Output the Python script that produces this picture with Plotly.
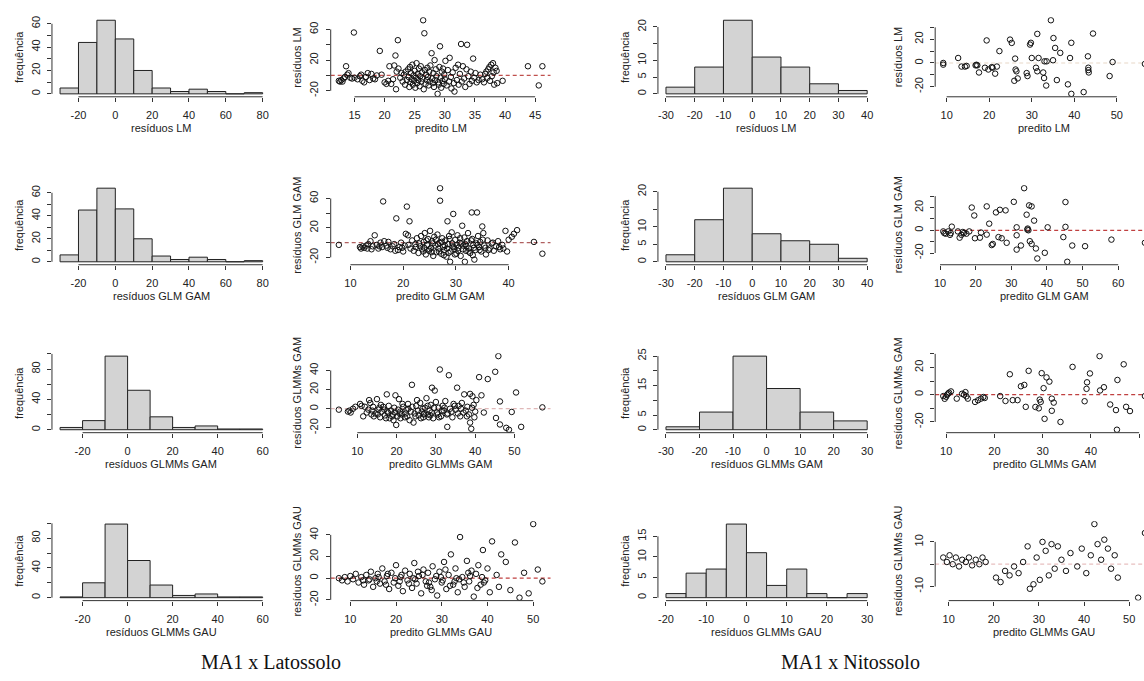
import plotly.graph_objects as go

W, H = 1144, 681
FONT = "Liberation Sans, Arial, sans-serif"
SERIF = "Liberation Serif, Times New Roman, serif"

# ---------------- histogram data ----------------
lat_lm_breaks = [-30, -20, -10, 0, 10, 20, 30, 40, 50, 60, 70, 80]
lat_lm_counts = [5, 44, 63, 47, 20, 5, 2, 4, 2, 0, 1]
lat_glm_breaks = [-30, -20, -10, 0, 10, 20, 30, 40, 50, 60, 70, 80]
lat_glm_counts = [6, 45, 64, 46, 20, 5, 2, 4, 2, 0, 1]
lat_gmmgam_breaks = [-30, -20, -10, 0, 10, 20, 30, 40, 50, 60]
lat_gmmgam_counts = [3, 12, 97, 52, 17, 3, 5, 1, 1]
lat_gmmgau_breaks = [-30, -20, -10, 0, 10, 20, 30, 40, 50, 60]
lat_gmmgau_counts = [1, 20, 99, 50, 17, 3, 5, 1, 1]

nit_lm_breaks = [-30, -20, -10, 0, 10, 20, 30, 40]
nit_lm_counts = [2, 8, 22, 11, 8, 3, 1]
nit_glm_breaks = [-30, -20, -10, 0, 10, 20, 30, 40]
nit_glm_counts = [2, 12, 21, 8, 6, 5, 1]
nit_gmmgam_breaks = [-30, -20, -10, 0, 10, 20, 30]
nit_gmmgam_counts = [1, 6, 25, 14, 6, 3]
nit_gmmgau_breaks = [-20, -15, -10, -5, 0, 5, 10, 15, 20, 25, 30]
nit_gmmgau_counts = [1, 6, 7, 18, 11, 3, 7, 1, 0, 1]

# ---------------- scatter data (predicted, residual) ----------------
lat_lm_pts = [
    (12.4, -7), (12.6, -8), (12.8, -6), (13.0, -8), (13.2, -4), (13.4, -2), (13.6, 12), (13.8, 1), (14.0, 3),
    (14.3, -3), (14.6, -4), (15.0, -3), (15.5, -5), (15.9, -1), (16.1, 1), (16.3, -7), (16.6, -9), (16.9, -2),
    (17.2, 3), (17.5, -6), (17.8, 2), (18.1, -4), (18.4, -5), (18.7, 0), (14.9, 56), (19.2, 32), (19.5, 1),
    (20.0, -9), (20.3, -11), (20.6, -7), (20.8, 12), (21.1, -11), (21.4, -5), (21.6, 13), (21.8, 26), (22.2, 46),
    (21.9, -18), (22.0, 5), (22.3, 9), (22.6, -3), (22.8, 3), (23.0, -8), (23.2, 1), (23.4, -12), (23.5, 5),
    (23.7, -6), (23.9, 8), (24.0, -2), (24.1, -15), (24.2, 11), (24.3, -9), (24.4, 3), (24.5, -5), (24.6, 14),
    (24.7, -12), (24.8, 0), (24.9, -7), (25.0, 6), (25.1, -16), (25.2, -3), (25.3, 16), (25.4, -10), (25.5, 2),
    (25.6, -6), (25.7, 9), (25.8, -14), (25.9, -1), (26.0, 12), (26.1, -8), (26.2, 4), (26.3, -4), (26.4, 72),
    (26.6, 55), (26.5, -18), (26.7, 7), (26.8, -11), (26.9, 1), (27.0, -6), (27.1, 10), (27.2, -2), (27.3, -13),
    (27.4, 5), (27.5, -8), (27.6, 13), (27.8, 29), (27.9, -4), (28.0, -10), (28.1, 3), (28.2, -15), (28.3, 20),
    (28.4, -6), (28.5, 8), (28.6, -1), (28.8, -24), (28.9, -9), (29.0, -12), (29.1, 11), (29.2, 38), (29.3, -3),
    (29.4, -16), (29.5, 5), (29.6, -7), (29.7, 9), (29.8, -11), (29.9, 1), (30.0, -5), (30.1, 19), (30.3, -13),
    (30.5, 7), (30.7, -8), (30.8, 23), (31.0, -2), (31.1, -17), (31.3, 4), (31.5, -10), (31.6, -21), (31.8, 10),
    (32.0, -6), (32.2, 14), (32.3, -12), (32.5, 2), (32.7, 41), (32.8, -8), (33.0, 12), (33.2, -4), (33.4, -15),
    (33.6, 8), (33.7, 40), (33.9, -1), (34.1, -11), (34.3, 5), (34.5, -7), (34.7, 22), (34.9, -3), (35.1, 3),
    (35.3, -9), (35.6, -6), (35.9, 1), (36.2, -5), (36.5, -9), (36.7, 2), (36.9, 5), (37.1, -3), (37.2, 8),
    (37.4, 11), (37.5, -7), (37.7, 14), (37.8, -1), (38.0, 16), (38.1, 4), (38.2, -12), (38.4, 10), (38.6, 6),
    (38.7, -10), (39.6, -7), (43.8, 12), (46.2, 12), (45.6, -13),
]

lat_glm_pts = [
    (7.8, -3), (11.8, -6), (12.0, -8), (12.3, -5), (12.6, -7), (13.0, -4), (13.4, -2), (13.8, 2), (14.2, -5),
    (14.6, 10), (15.0, -3), (15.3, -8), (15.7, 0), (16.0, -6), (16.2, 56), (16.4, 2), (16.8, -4), (17.2, 1),
    (17.6, -9), (18.0, -5), (18.3, -2), (18.7, 33), (19.0, -10), (19.3, -6), (19.6, 0), (20.0, -12), (20.3, -4),
    (20.7, 49), (20.5, 12), (20.9, 10), (21.2, 29), (21.4, -8), (21.7, 3), (22.0, -11), (22.3, -2), (22.6, 6),
    (22.9, -14), (23.2, -5), (23.4, 9), (23.6, -9), (23.9, 1), (24.1, 13), (24.3, -16), (24.5, -3), (24.7, 5),
    (24.9, -11), (25.1, 16), (25.3, -7), (25.5, 2), (25.7, -18), (25.9, 8), (26.1, -4), (26.3, -13), (26.5, 11),
    (26.7, -8), (26.9, 0), (27.0, 74), (27.0, 57), (27.2, -15), (27.4, 6), (27.6, -6), (27.8, -10), (28.0, 3),
    (28.2, -19), (28.4, 29), (28.5, -2), (28.7, 9), (28.9, -26), (29.0, -12), (29.2, 14), (29.4, -5), (29.5, 39),
    (29.7, -9), (29.9, 4), (30.1, -15), (30.3, 10), (30.5, -7), (30.7, 0), (30.9, -18), (31.2, 23), (31.4, -4),
    (31.6, 7), (31.7, -26), (31.9, -11), (32.1, 2), (32.3, 13), (32.5, -8), (32.7, -14), (33.0, 41), (33.1, 5),
    (33.3, -3), (33.5, -23), (33.7, -10), (34.0, 41), (34.2, 9), (34.4, -6), (34.6, 1), (34.8, -12), (35.0, 22),
    (35.2, 13), (35.4, -4), (35.7, -16), (36.0, 3), (36.4, -8), (36.8, -1), (37.2, -11), (37.6, -5), (38.0, 2),
    (38.4, -9), (38.8, -3), (39.0, -8), (39.4, 16), (39.7, -12), (40.0, 4), (40.6, 8), (41.0, 12), (41.6, 17),
    (44.8, 1), (46.4, -15), (23.0, -1), (23.8, -12), (24.4, 3), (25.0, -9), (25.6, -1), (26.2, 4), (26.8, -12),
    (27.3, 1), (27.9, -4), (28.3, -8), (28.8, 5), (29.3, -1), (29.8, -16), (30.2, -3), (30.8, 6), (31.3, -9),
    (31.8, -2), (32.4, -12), (32.9, 3), (33.4, -7), (33.9, -1), (34.5, -10), (35.1, 4), (35.6, -7), (24.0, -7),
    (25.4, -13), (26.6, -2), (27.7, -17), (28.6, -14), (29.6, -6), (30.4, -11), (31.0, -1), (32.0, -5),
    (33.2, -17), (34.1, -3), (36.2, -10), (37.0, 0), (38.2, -6), (22.4, -6), (21.0, -3), (19.8, -7), (18.5, -11),
    (17.0, -7), (15.5, -5), (14.0, -9), (13.2, -8),
]

lat_gmmgam_pts = [
    (5.3, -1), (7.6, -3), (8.0, -2), (8.3, -4), (8.9, 0), (9.5, 2), (10.7, 5), (11.1, 3), (11.5, -8), (12.4, -4),
    (13.0, 9), (13.3, 6), (13.8, -2), (14.2, -8), (14.6, -5), (15.0, 10), (15.4, -1), (15.8, -9), (16.2, -3),
    (16.6, 2), (17.0, -7), (17.5, 15), (17.8, -4), (18.2, -10), (18.6, -2), (19.0, -6), (19.4, 1), (19.7, 14),
    (19.9, -17), (20.2, -8), (20.6, 10), (20.9, -3), (21.3, -6), (21.7, 2), (22.1, -9), (22.5, -1), (22.9, 5),
    (23.3, -12), (23.9, 25), (24.3, -14.5), (24.6, -5), (25.0, 3), (25.2, 9), (25.6, -7), (26.0, 6), (26.4, -3),
    (26.8, -9), (27.2, 1), (27.6, 11), (28.0, -6), (28.4, -2), (28.7, 4), (29.0, 22), (29.3, -10), (29.7, 19),
    (30.0, 7), (30.3, -4), (30.7, 1), (31.0, 41), (31.3, -8), (31.7, 3), (32.0, -2), (32.4, 8), (32.8, -6),
    (32.9, -19), (33.3, 35), (33.6, 0), (34.0, -3), (34.5, 5), (35.0, -1), (35.4, 22), (35.8, 3), (36.2, -8),
    (36.6, 6), (37.2, 15), (37.6, -2), (38.0, 2), (38.4, -6), (38.7, 15.5), (38.7, -14.5), (39.0, -21),
    (39.3, 13), (39.6, 4), (40.0, -3), (40.3, 9), (41.0, 33), (41.6, 14), (42.2, -4), (43.2, 31), (45.1, 38.6),
    (45.3, -9.7), (45.9, 55), (46.3, 7.6), (46.3, -16.5), (47.9, -20), (48.6, -22), (49.3, -3.4), (50.4, 17),
    (51.7, -19), (57.1, 1.4), (14.0, 2), (15.2, -6), (16.0, 4), (16.9, -1), (17.3, -10), (18.0, 3), (18.9, -8),
    (19.5, -4), (20.4, -1), (21.0, -10), (21.5, 5), (22.3, -5), (23.0, 0), (23.6, -3), (24.0, 2), (25.4, -2),
    (26.2, -10), (26.6, 0), (27.0, -5), (27.9, 3), (28.2, -9), (28.9, -4), (29.5, 1), (30.5, -6), (31.5, -2),
    (32.2, 1), (33.0, -5), (34.2, -9), (34.8, 3), (35.6, -5), (36.4, 0), (37.0, -4), (37.9, -8), (39.2, 1),
    (39.8, -9), (15.6, 1), (17.6, -3), (19.2, -12), (20.8, -5), (22.7, -8), (24.8, -8), (26.9, -6), (28.6, -7),
    (30.8, -9), (12.8, -1), (11.9, 2), (13.6, -6),
]

lat_gmmgau_pts = [
    (7.5, 0), (8.2, -2), (8.8, 1), (9.4, -3), (10.0, 2), (10.6, -1), (11.2, 4), (11.8, -4), (12.4, 1), (13.0, -6),
    (13.5, 3), (14.0, -2), (14.5, 6), (15.0, -8), (15.5, 0), (16.0, 4), (16.5, -5), (17.0, 9), (17.5, -3),
    (18.0, 2), (18.5, -10), (19.0, 5), (19.5, -4), (20.0, 12), (20.5, -7), (21.0, 1), (21.5, -12), (22.0, 7),
    (22.5, -2), (23.0, 4), (23.5, -9), (24.0, 14), (24.5, -5), (25.0, 2), (25.5, -14), (26.0, 8), (26.5, -3),
    (27.0, 5), (27.5, -8), (28.0, 11), (28.5, -1), (29.0, -16), (29.5, 6), (30.0, -4), (30.5, 15), (31.0, -10),
    (31.5, 3), (32.0, 22), (32.5, -6), (33.0, 9), (33.5, -13), (34.0, 38), (34.5, 1), (35.0, -8), (35.5, 16),
    (36.0, -3), (36.5, 7), (37.0, -17), (37.5, 4), (38.0, 12), (38.5, -6), (39.0, 26), (39.5, -2), (40.0, 9),
    (40.5, -13), (41.0, 34), (42.0, 3), (42.5, -8), (43.0, 22), (44.0, 15), (45.0, -11), (46.0, 33), (47.0, -18),
    (48.0, 5), (49.0, -14), (50.0, 50), (51.0, 8), (52.0, -3), (14.2, -1), (16.2, 1), (17.8, -6), (19.8, 0),
    (21.2, 3), (22.8, -5), (24.2, -1), (25.8, 3), (27.2, -4), (28.8, 2), (30.2, -2), (31.8, -7), (33.2, 0),
    (34.8, -4), (36.2, 2), (37.8, -9), (39.2, -4), (15.8, -3), (18.2, 4), (20.8, -3), (23.8, 0), (26.8, -7),
    (29.8, 1), (32.8, -3), (35.8, 5), (38.8, 1), (12.8, -2), (24.8, 6), (27.8, -11), (30.8, 8), (33.8, -1),
]

nit_lm_pts = [
    (9.2, 0), (9.2, -1.4), (12.7, 4.2), (13.5, -3), (14.3, -3), (14.7, -2.5), (16.8, -2), (17.0, -1.5), (17.2, -2),
    (17.6, -8), (19.4, 19), (19.0, -4), (19.8, -5.5), (20.6, -3.5), (20.8, -4), (21.8, -3), (21.4, -9), (22.4, 10),
    (24.9, 19.7), (25.3, 16.9), (26.1, 3.7), (26.2, -5.5), (26.4, -7), (25.9, -15), (26.7, -13), (29.6, 15.5),
    (29.8, 17), (28.8, -8.5), (29.0, -11), (30.0, 4.2), (31.6, 4.2), (31.0, -4), (31.3, -7), (31.3, 24.5),
    (33.0, 1.4), (33.5, 1.4), (32.7, -8), (32.9, -12.7), (33.4, -19), (34.5, 36), (35.1, 21), (35.5, 12.7),
    (36.7, 8.5), (35.0, 2.3), (35.9, -14.4), (38.5, -18), (39.3, -26), (39.3, 17), (39.0, 4.2), (42.2, -24.5),
    (43.2, 5.6), (43.3, -4), (43.3, -6), (43.4, -8), (44.4, 24.8), (48.3, -11), (49.0, 0.8), (56.6, -0.8),
]

nit_glm_pts = [
    (10.9, -1), (11.2, -2.5), (11.6, -3), (12.3, -1), (12.8, -4), (13.3, 3.2), (13.0, -2.5), (15.0, -1),
    (15.5, -6.5), (16.0, -4), (16.4, -1.5), (16.7, -2.5), (17.4, -3), (18.2, -1), (18.9, 20), (19.6, 13),
    (19.8, -7), (21.2, -6.5), (21.5, -2), (23.1, 21), (23.1, -3.8), (23.8, 5.8), (24.5, -13), (24.8, -12),
    (25.7, 15.7), (26.8, 18), (28.4, 17.5), (26.4, -6), (27.3, -7), (28.7, -11), (30.7, 25), (31.5, -17),
    (31.5, 2.6), (31.5, -4.4), (32.7, -13.4), (33.6, 37), (34.3, 13.7), (34.6, 1.5), (34.8, 0), (34.5, 0.6),
    (35.0, 21.9), (35.7, 21), (35.2, -9.6), (35.7, -12), (36.4, 8.5), (36.9, -16), (37.3, -24.8), (39.4, -19.8),
    (40.2, 2.6), (44.6, -6), (45.2, 24.8), (45.2, 3), (45.7, -27.7), (47.1, -13.4), (50.7, -14), (58.1, -8.2),
    (67.5, -11),
]

nit_gmmgam_pts = [
    (9.4, -1), (9.7, -3), (10.0, -1.5), (10.4, 0.8), (10.6, 1.5), (11.0, 2.4), (10.2, 0), (12.2, -2.9),
    (13.3, 0.7), (13.7, 0), (14.2, -1.2), (14.5, -2.9), (14.0, 1.9), (16.0, -5.3), (16.6, -4.1), (17.2, -2.9),
    (17.7, -1.7), (18.0, -2.4), (21.2, -1), (22.3, -4.6), (23.2, 15), (23.8, -4), (24.8, -4), (25.5, 6.2),
    (26.2, 7.2), (26.5, -8.9), (27.1, 17.5), (28.5, -9), (29.2, -10), (29.4, -3.6), (29.6, -5.3), (29.8, 15.8),
    (30.2, 4.8), (30.4, -17.7), (30.8, 12.7), (31.4, 9.6), (31.9, -2.9), (32.3, -5.8), (31.9, -11.8),
    (33.7, -20), (36.2, 20.4), (38.7, -4.8), (39.1, 4.3), (39.2, 9.1), (39.8, 15.6), (41.8, 28.3), (41.9, 3.1),
    (42.7, 5.5), (44.0, -7.2), (45.2, -11.3), (45.5, 10.8), (45.4, -25.7), (46.8, 22.3), (47.3, -8.9),
    (48.1, -12), (51.2, -1),
]

nit_gmmgau_pts = [
    (8.8, 3), (9.6, 1), (10.2, 4), (10.9, 0), (11.6, 3), (12.3, -1), (13.0, 2), (13.8, 1), (14.5, 3), (15.2, -0.5),
    (16.0, 2), (16.8, 0), (17.5, 3), (18.2, 1), (20.5, -6), (21.5, -8), (22.5, -3), (23.5, -5), (24.5, -1),
    (25.5, -4), (26.5, 1), (27.5, 8), (28.0, -11), (28.8, -9), (29.5, 3), (30.2, -7), (30.8, 10), (31.5, 6),
    (32.2, -5), (32.8, 9), (33.5, -2), (34.2, 8), (35.0, 2), (36.0, -3), (37.0, 5), (38.5, -1), (39.5, 7),
    (40.5, -4), (41.5, 4), (42.3, 18), (43.0, 9), (43.8, 2), (44.5, 11), (45.3, 7), (46.0, -2), (46.8, 4),
    (47.5, -6), (52.0, -15), (53.5, 14),
]

# ---------------- tick values / labels ----------------
tk_lat_hist80_x = [-20, 0, 20, 40, 60, 80]
tk_lat_hist60_x = [-20, 0, 20, 40, 60]
tk_lat_hist60_y = [0, 10, 20, 30, 40, 50, 60]
tl_lat_hist60_y = ["0", "", "20", "", "40", "", "60"]
tk_lat_hist100_y = [0, 20, 40, 60, 80, 100]
tl_lat_hist100_y = ["0", "", "40", "", "80", ""]
tk_nit_hist_x40 = [-30, -20, -10, 0, 10, 20, 30, 40]
tk_nit_hist_x30 = [-30, -20, -10, 0, 10, 20, 30]
tk_nit_gau_x = [-20, -10, 0, 10, 20, 30]

# ---------------- panels ----------------
panels = [
    # row 1
    dict(kind="hist", breaks=lat_lm_breaks, counts=lat_lm_counts, xt=tk_lat_hist80_x, xl=None,
         yt=tk_lat_hist60_y, yl=tl_lat_hist60_y, xlab="resíduos LM", ylab="frequência"),
    dict(kind="sc", pts=lat_lm_pts, xt=[15, 20, 25, 30, 35, 40, 45], xl=None,
         yt=[-20, 0, 20, 40, 60], yl=["-20", "", "20", "", "60"], xlab="predito LM", ylab="resíduos LM",
         dash="#c0504d"),
    dict(kind="hist", breaks=nit_lm_breaks, counts=nit_lm_counts, xt=tk_nit_hist_x40, xl=None,
         yt=[0, 5, 10, 15, 20], yl=["0", "5", "10", "", "20"], xlab="resíduos LM", ylab="frequência"),
    dict(kind="sc", pts=nit_lm_pts, xt=[10, 20, 30, 40, 50], xl=None,
         yt=[-20, -10, 0, 10, 20, 30], yl=["-20", "", "0", "", "20", ""], xlab="predito LM",
         ylab="resíduos LM", dash="#e8d8c8"),
    # row 2
    dict(kind="hist", breaks=lat_glm_breaks, counts=lat_glm_counts, xt=tk_lat_hist80_x, xl=None,
         yt=tk_lat_hist60_y, yl=tl_lat_hist60_y, xlab="resíduos GLM GAM", ylab="frequência"),
    dict(kind="sc", pts=lat_glm_pts, xt=[10, 20, 30, 40], xl=None,
         yt=[-20, 0, 20, 40, 60], yl=["-20", "", "20", "", "60"], xlab="predito GLM GAM",
         ylab="resíduos GLM GAM", dash="#b06060"),
    dict(kind="hist", breaks=nit_glm_breaks, counts=nit_glm_counts, xt=tk_nit_hist_x40, xl=None,
         yt=[0, 5, 10, 15, 20], yl=["0", "5", "10", "", "20"], xlab="resíduos GLM GAM", ylab="frequência"),
    dict(kind="sc", pts=nit_glm_pts, xt=[10, 20, 30, 40, 50, 60], xl=None,
         yt=[-20, -10, 0, 10, 20, 30], yl=["-20", "", "0", "", "20", ""], xlab="predito GLM GAM",
         ylab="resíduos GLM GAM", dash="#c04040"),
    # row 3
    dict(kind="hist", breaks=lat_gmmgam_breaks, counts=lat_gmmgam_counts, xt=tk_lat_hist60_x, xl=None,
         yt=tk_lat_hist100_y, yl=tl_lat_hist100_y, xlab="resíduos GLMMs GAM", ylab="frequência"),
    dict(kind="sc", pts=lat_gmmgam_pts, xt=[10, 20, 30, 40, 50], xl=None,
         yt=[-20, 0, 20, 40], yl=None, xlab="predito GLMMs GAM", ylab="resíduos GLMMs GAM",
         dash="#e0b8b8"),
    dict(kind="hist", breaks=nit_gmmgam_breaks, counts=nit_gmmgam_counts, xt=tk_nit_hist_x30, xl=None,
         yt=[0, 5, 10, 15, 20, 25], yl=["0", "5", "", "15", "", "25"], xlab="resíduos GLMMs GAM",
         ylab="frequência"),
    dict(kind="sc", pts=nit_gmmgam_pts, xt=[10, 20, 30, 40, 50], xl=None,
         yt=[-20, -10, 0, 10, 20, 30], yl=["-20", "", "0", "", "20", ""], xlab="predito GLMMs GAM",
         ylab="resíduos GLMMs GAM", dash="#c04040"),
    # row 4
    dict(kind="hist", breaks=lat_gmmgau_breaks, counts=lat_gmmgau_counts, xt=tk_lat_hist60_x, xl=None,
         yt=tk_lat_hist100_y, yl=tl_lat_hist100_y, xlab="resíduos GLMMs GAU", ylab="frequência"),
    dict(kind="sc", pts=lat_gmmgau_pts, xt=[10, 20, 30, 40, 50], xl=None,
         yt=[-20, 0, 20, 40], yl=None, xlab="predito GLMMs GAU", ylab="resíduos GLMMs GAU",
         dash="#c04040"),
    dict(kind="hist", breaks=nit_gmmgau_breaks, counts=nit_gmmgau_counts, xt=tk_nit_gau_x, xl=None,
         yt=[0, 5, 10, 15], yl=None, xlab="resíduos GLMMs GAU", ylab="frequência"),
    dict(kind="sc", pts=nit_gmmgau_pts, xt=[10, 20, 30, 40, 50], xl=None,
         yt=[-10, 0, 10], yl=["-10", "", "10"], xlab="predito GLMMs GAU", ylab="resíduos GLMMs GAU",
         dash="#e8c0c0"),
]

# ---------------- layout geometry (pixels) ----------------
COLS = [(51, 270), (330, 550), (657.5, 875), (935, 1153)]
YLAB_GAP = [33, 34, 33, 37]
ROW_TOP = [12.5, 183.2, 353.9, 524.6]
ROW_H = 80.8


def r_range(lo, hi):
    d = hi - lo
    return [lo - 0.04 * d, hi + 0.04 * d]


fig = go.Figure()
layout = dict(width=W, height=H, margin=dict(l=0, r=0, t=0, b=0), autosize=False,
              paper_bgcolor="white", plot_bgcolor="white", showlegend=False)
shapes, annotations = [], []
tickfont = dict(family=FONT, size=11, color="#222")
AX = "#333"

for i, p in enumerate(panels):
    k = i + 1
    r, c = divmod(i, 4)
    sfx = "" if k == 1 else str(k)
    xref, yref = "x" + sfx, "y" + sfx
    c0, c1 = COLS[c]
    top = ROW_TOP[r]
    bot = top + ROW_H

    if p["kind"] == "hist":
        b = p["breaks"]
        xr = r_range(b[0], b[-1])
        yr = r_range(0, max(p["counts"]))
        fig.add_trace(go.Bar(x=b[:-1], y=p["counts"], width=[b[j + 1] - b[j] for j in range(len(b) - 1)],
                             offset=0, marker=dict(color="#d3d3d3", line=dict(color="#222", width=1)),
                             xaxis=xref, yaxis=yref, hoverinfo="skip"))
    else:
        xs = [q[0] for q in p["pts"]]
        ys = [q[1] for q in p["pts"]]
        xr = r_range(min(xs), max(xs))
        yr = r_range(min(ys), max(ys))
        fig.add_trace(go.Scatter(x=xs, y=ys, mode="markers", xaxis=xref, yaxis=yref,
                                 marker=dict(symbol="circle-open", size=5.5, color="#111",
                                             line=dict(width=1, color="#111")),
                                 hoverinfo="skip"))
        shapes.append(dict(type="line", xref=xref + " domain", yref=yref, x0=0, x1=1, y0=0, y1=0,
                           line=dict(color=p["dash"], width=1.2, dash="4px,3px"), layer="below"))

    # clip the right column at the page edge
    if c1 > W:
        frac = (W - c0) / (c1 - c0)
        xr = [xr[0], xr[0] + frac * (xr[1] - xr[0])]
        c1v = W
    else:
        c1v = c1
    xdom = [c0 / W, c1v / W]
    ydom = [1 - bot / H, 1 - top / H]

    xl = p["xl"] if p["xl"] else [str(v) for v in p["xt"]]
    yl = p["yl"] if p["yl"] else [str(v) for v in p["yt"]]
    layout["xaxis" + sfx] = dict(domain=xdom, range=xr, anchor=yref, showline=False, showgrid=False,
                                 zeroline=False, ticks="outside", ticklen=4, tickwidth=1, tickcolor=AX,
                                 tickvals=p["xt"], ticktext=xl, tickfont=tickfont, ticklabelstandoff=4,
                                 fixedrange=True)
    layout["yaxis" + sfx] = dict(domain=ydom, range=yr, anchor=xref, showline=False, showgrid=False,
                                 zeroline=False, ticks="outside", ticklen=4, tickwidth=1, tickcolor=AX,
                                 tickvals=p["yt"], ticktext=yl, tickfont=tickfont, tickangle=-90,
                                 ticklabelstandoff=3, fixedrange=True)
    # R-style axis lines from first to last tick
    shapes.append(dict(type="line", xref=xref, yref="paper", x0=p["xt"][0], x1=p["xt"][-1],
                       y0=ydom[0], y1=ydom[0], line=dict(color=AX, width=1)))
    shapes.append(dict(type="line", xref="paper", yref=yref, x0=xdom[0], x1=xdom[0],
                       y0=p["yt"][0], y1=p["yt"][-1], line=dict(color=AX, width=1)))
    # axis titles
    cx = (c0 + c1) / 2
    annotations.append(dict(text=p["xlab"], xref="paper", yref="paper", x=cx / W, y=1 - (bot + 32) / H,
                            xanchor="center", yanchor="middle", showarrow=False,
                            font=dict(family=FONT, size=11, color="#222")))
    annotations.append(dict(text=p["ylab"], xref="paper", yref="paper", x=(c0 - YLAB_GAP[c]) / W,
                            y=1 - (top + ROW_H / 2) / H, xanchor="center", yanchor="middle",
                            textangle=-90, showarrow=False, font=dict(family=FONT, size=11, color="#222")))

captions = ["MA1 x Latossolo", "MA1 x Nitossolo"]
caption_x = [270, 850]
for t, xpix in zip(captions, caption_x):
    annotations.append(dict(text=t, xref="paper", yref="paper", x=xpix / W, y=1 - 668 / H,
                            xanchor="center", yanchor="middle", showarrow=False,
                            font=dict(family=SERIF, size=20, color="#111")))

layout["shapes"] = shapes
layout["annotations"] = annotations
fig.update_layout(**layout)
fig.write_html("out.html")
